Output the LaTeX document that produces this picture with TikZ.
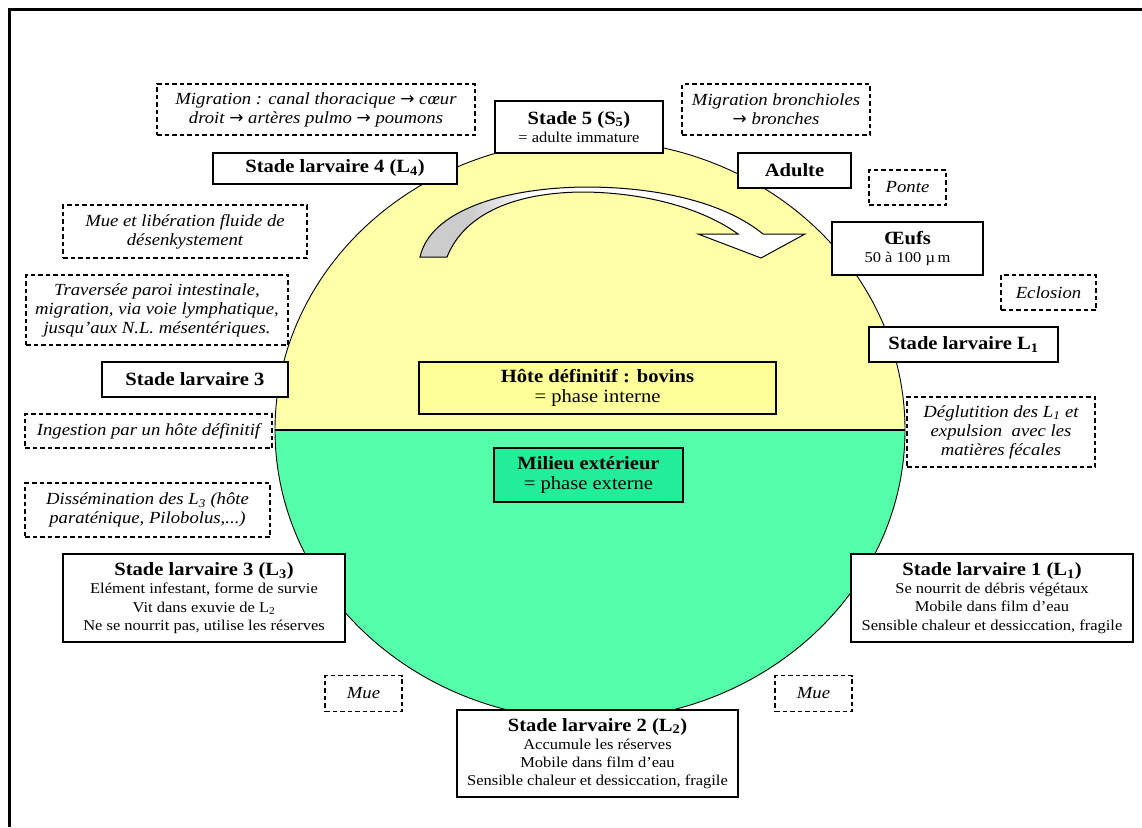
\documentclass[tikz,border=0pt]{standalone}
\usepackage{fontspec}
\setmainfont{Liberation Serif}[FakeStretch=1.1]
\newfontfamily\arrowfamily{DejaVu Sans}
\definecolor{topyellow}{HTML}{FFFFA8}
\definecolor{botgreen}{HTML}{55FFAA}
\definecolor{hoteyellow}{HTML}{FFFF99}
\definecolor{milieugreen}{HTML}{22EE99}
\newcommand\ttlfont{\fontsize{18.7}{20}\selectfont\bfseries}
\newcommand\bodyfont{\fontsize{15}{18.2}\selectfont}
\newcommand\bigbody{\fontsize{18.7}{20}\selectfont}
\newcommand\itfont{\fontsize{17}{19}\selectfont\itshape}
\newcommand\rarr{{\arrowfamily\upshape →}}
\newcommand\arrowshape{(420,257) .. controls (430,212) and (500,188) .. (585,187) .. controls (660,187) and (725,203) .. (763,234) -- (805,234) -- (761,258) -- (698,234) -- (738,234) .. controls (705,210) and (650,193) .. (585,192) .. controls (518,192) and (465,212) .. (447,257) -- cycle}
\tikzset{
  solidbox/.style={draw=black, line width=1.2pt, fill=white, align=center, inner sep=0pt, font=\bodyfont},
  dashbox/.style={draw=black, line width=1.2pt, dash pattern=on 4.5pt off 3pt, fill=white, align=center, inner sep=0pt, font=\itfont},
  wh/.style 2 args={minimum width=#1pt, minimum height=#2pt},
}
\begin{document}
\begin{tikzpicture}[x=1pt,y=-1pt]
\useasboundingbox (0,0) rectangle (1142,827);
\fill[white] (0,0) rectangle (1142,827);
% frame
\draw[line width=2.7pt] (9.5,827) -- (9.5,9.5) -- (1142,9.5);
% ellipse halves
\begin{scope}
  \clip (0,0) rectangle (1142,430);
  \fill[topyellow] (590,430) ellipse [x radius=315pt, y radius=290pt];
\end{scope}
\begin{scope}
  \clip (0,430) rectangle (1142,827);
  \fill[botgreen] (590,430) ellipse [x radius=315pt, y radius=290pt];
\end{scope}
\draw[line width=0.9pt] (590,430) ellipse [x radius=315pt, y radius=290pt];
\coordinate (eqL) at (275,430);
\coordinate (eqR) at (905,430);
\draw[line width=1.2pt] (eqL) -- (eqR);
% curved arrow
\fill[white] \arrowshape;
\begin{scope}
  \clip \arrowshape;
  \fill[gray!40] (400,170) rectangle (470,265);
  \shade[left color=gray!40, right color=white] (470,170) rectangle (530,265);
\end{scope}
\draw[line width=1pt, line join=miter] \arrowshape;
% solid boxes
\node[solidbox, wh={168}{52}] (s5) at (579,127) {{\ttlfont Stade 5 (S\textsubscript{5})}\\= adulte immature};
\node[solidbox, wh={244}{31}] (l4) at (335,168.5) {{\ttlfont Stade larvaire 4 (L\textsubscript{4})}};
\node[solidbox, wh={113}{35}] (adulte) at (794.5,170.5) {{\ttlfont Adulte}};
\node[solidbox, wh={151}{53}] (oeufs) at (907.5,248.5) {{\ttlfont Œufs}\\50 à 100 µ\,m};
\node[solidbox, wh={189}{35}] (l1s) at (963.5,344.5) {{\ttlfont Stade larvaire L\textsubscript{1}}};
\node[solidbox, wh={282}{88}] (l1b) at (992,598) {{\ttlfont Stade larvaire 1 (L\textsubscript{1})}\\Se nourrit de débris végétaux\\Mobile dans film d’eau\\Sensible chaleur et dessiccation, fragile};
\node[solidbox, wh={281}{87}] (l2b) at (597.5,753.5) {{\ttlfont Stade larvaire 2 (L\textsubscript{2})}\\Accumule les réserves\\Mobile dans film d’eau\\Sensible chaleur et dessiccation, fragile};
\node[solidbox, wh={282}{88}] (l3b) at (204,598) {{\ttlfont Stade larvaire 3 (L\textsubscript{3})}\\Elément infestant, forme de survie\\Vit dans exuvie de L\textsubscript{2}\\Ne se nourrit pas, utilise les réserves};
\node[solidbox, wh={186}{35}] (l3s) at (195,379.5) {{\ttlfont Stade larvaire 3}};
\node[solidbox, fill=hoteyellow, wh={357}{52}, font=\bigbody] (hote) at (597.5,388) {{\bfseries Hôte définitif : bovins}\\= phase interne};
\node[solidbox, fill=milieugreen, wh={189}{54}, font=\bigbody] (milieu) at (588.5,475) {{\bfseries Milieu extérieur}\\= phase externe};
% dashed boxes
\node[dashbox, wh={318}{51}] (migcanal) at (316,109.5) {Migration : canal thoracique \rarr{} cœur\\droit \rarr{} artères pulmo \rarr{} poumons};
\node[dashbox, wh={188}{51}] (migbron) at (776,109.5) {Migration bronchioles\\\rarr{} bronches};
\node[dashbox, wh={77}{35}] (ponte) at (907.5,187.5) {Ponte};
\node[dashbox, wh={95}{35}] (eclosion) at (1048.5,292.5) {Eclosion};
\node[dashbox, wh={188}{70}] (deglut) at (1001,432) {Déglutition des L\textsubscript{1} et\\expulsion\ \ avec les\\matières fécales};
\node[dashbox, wh={77}{36}] (muer) at (813.5,693.5) {Mue};
\node[dashbox, wh={77}{36}] (muel) at (363.5,693.5) {Mue};
\node[dashbox, wh={245}{54}] (dissem) at (147.5,510) {Dissémination des L\textsubscript{3} (hôte\\paraténique, Pilobolus,...)};
\node[dashbox, wh={247}{34}] (ingest) at (148.5,431) {Ingestion par un hôte définitif};
\node[dashbox, wh={262}{70}] (travers) at (157,310) {Traversée paroi intestinale,\\migration, via voie lymphatique,\\jusqu’aux N.L. mésentériques.};
\node[dashbox, wh={244}{53}] (muelib) at (185,231.5) {Mue et libération fluide de\\désenkystement};
\end{tikzpicture}
\end{document}
